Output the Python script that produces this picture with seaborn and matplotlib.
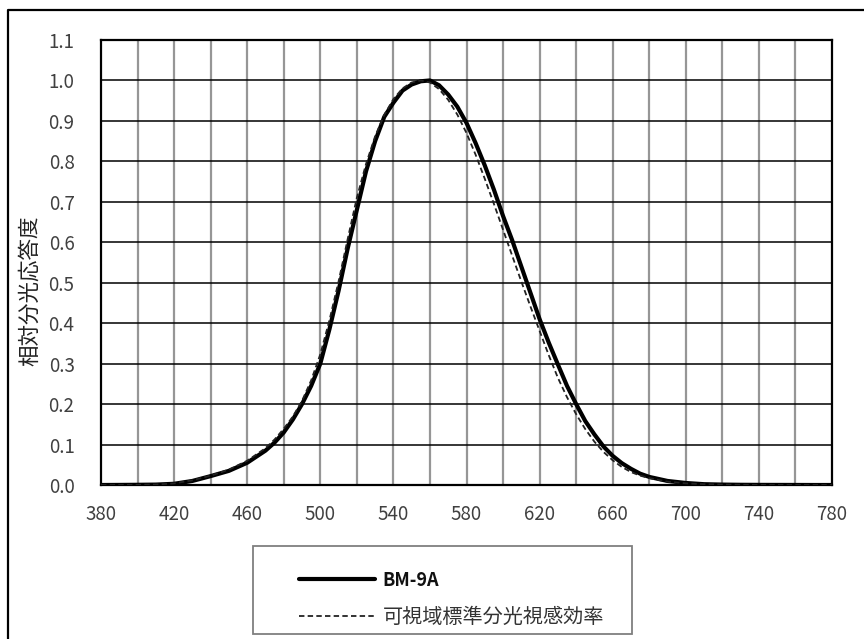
# Relative spectral response of BM-9A vs. CIE photopic V(lambda)

import matplotlib
matplotlib.use("Agg")
import pandas as pd
import matplotlib.pyplot as plt
import seaborn as sns
from matplotlib.lines import Line2D
from matplotlib.patches import Rectangle

# --- Data ---
wavelength = [380, 390, 400, 410, 420, 430, 440, 450, 460, 470, 475, 480,
              485, 490, 495, 500, 505, 510, 515, 520, 525, 530, 535, 540,
              545, 550, 555, 560, 565, 570, 575, 580, 585, 590, 595, 600,
              605, 610, 615, 620, 625, 630, 635, 640, 645, 650, 655, 660,
              665, 670, 675, 680, 690, 700, 710, 720, 730, 740, 750, 760,
              770, 780]
bm9a = [0.0, 0.0002, 0.0005, 0.001, 0.003, 0.01, 0.022, 0.035, 0.055, 0.085,
        0.105, 0.13, 0.162, 0.2, 0.245, 0.3, 0.385, 0.48, 0.585, 0.68,
        0.775, 0.85, 0.91, 0.945, 0.975, 0.99, 0.998, 1.0, 0.988, 0.965,
        0.935, 0.895, 0.845, 0.79, 0.73, 0.665, 0.605, 0.54, 0.475, 0.41,
        0.352, 0.298, 0.245, 0.2, 0.158, 0.125, 0.095, 0.072, 0.054, 0.04,
        0.028, 0.02, 0.01, 0.005, 0.002, 0.001, 0.0005, 0.0003, 0.0002,
        0.0001, 0.0, 0.0]
v_lambda = [0.00004, 0.00012, 0.0004, 0.0012, 0.004, 0.0116, 0.023, 0.038,
            0.06, 0.091, 0.1126, 0.139, 0.1693, 0.208, 0.2586, 0.323, 0.4073,
            0.503, 0.6082, 0.71, 0.7932, 0.862, 0.9149, 0.954, 0.9803, 0.995,
            1.0, 0.995, 0.9786, 0.952, 0.9154, 0.87, 0.8163, 0.757, 0.6949,
            0.631, 0.5668, 0.503, 0.4412, 0.381, 0.321, 0.265, 0.217, 0.175,
            0.1382, 0.107, 0.0816, 0.061, 0.0446, 0.032, 0.0232, 0.017,
            0.0082, 0.0041, 0.0021, 0.00105, 0.00052, 0.00025, 0.00012,
            0.00006, 0.00003, 0.000015]
series_names = ["BM-9A", "可視域標準分光視感効率"]
x_ticks = list(range(380, 781, 40))
y_ticks = [i / 10 for i in range(0, 12)]
y_label = "相対分光応答度"

df = pd.DataFrame({"wavelength": wavelength, "bm9a": bm9a, "v": v_lambda})

sns.set_style("white")
plt.rcParams["font.family"] = ["Noto Sans CJK JP", "DejaVu Sans"]

W, H = 864, 639
fig = plt.figure(figsize=(W / 100, H / 100), dpi=100)
ax = fig.add_axes([101 / W, 1 - 485 / H, 731 / W, 445 / H])

# grid: vertical lines grey every 20 nm, horizontal black every 0.1
for xv in range(400, 780, 20):
    ax.axvline(xv, color="#969696", lw=1.6, zorder=1)
for yv in y_ticks[1:-1]:
    ax.axhline(yv, color="black", lw=1.1, zorder=1)

sns.lineplot(data=df, x="wavelength", y="bm9a", ax=ax, color="black",
             lw=3.0, label=series_names[0], zorder=3)
sns.lineplot(data=df, x="wavelength", y="v", ax=ax, color="#222222",
             lw=1.3, linestyle=(0, (3, 1.8)), label=series_names[1], zorder=4)

ax.set_xlim(380, 780)
ax.set_ylim(0, 1.1)
ax.set_xticks(x_ticks)
ax.set_yticks(y_ticks)
ax.set_yticklabels([f"{v:.1f}" for v in y_ticks])
ax.tick_params(axis="both", length=0, labelsize=13.5, labelcolor="#404040")
ax.tick_params(axis="y", pad=19)
ax.tick_params(axis="x", pad=14)
ax.set_xlabel("")
ax.set_ylabel(y_label, fontsize=15.5, color="#222222")
ax.yaxis.set_label_coords(-0.097, 0.436)
ax.yaxis.label.set_va("center")
for s in ax.spines.values():
    s.set_color("black")
    s.set_linewidth(1.6)

# legend, placed in its own box below the plot
handles, labels = ax.get_legend_handles_labels()
ax.get_legend().remove()
leg = fig.legend(handles, labels, loc="upper left",
                 bbox_to_anchor=(289 / W, 1 - 561 / H), frameon=False,
                 handlelength=3.75, handletextpad=0.4, labelspacing=0.85,
                 borderpad=0, prop={"size": 14.5})
leg.get_texts()[0].set_fontsize(13)
leg.get_texts()[0].set_fontweight("bold")
leg.get_texts()[0].set_color("#111111")
leg.get_texts()[1].set_color("#333333")
fig.add_artist(Rectangle((253 / W, 1 - 634 / H), 379 / W, 88 / H,
                         transform=fig.transFigure, fill=False,
                         edgecolor="#7f7f7f", lw=1.3))

# outer chart border (only left and top edges fall inside the image)
fig.add_artist(Line2D([8 / W, 8 / W, 1], [0, 1 - 10 / H, 1 - 10 / H],
                      transform=fig.transFigure, color="black", lw=1.6))

fig.savefig("out.png", dpi=100)
